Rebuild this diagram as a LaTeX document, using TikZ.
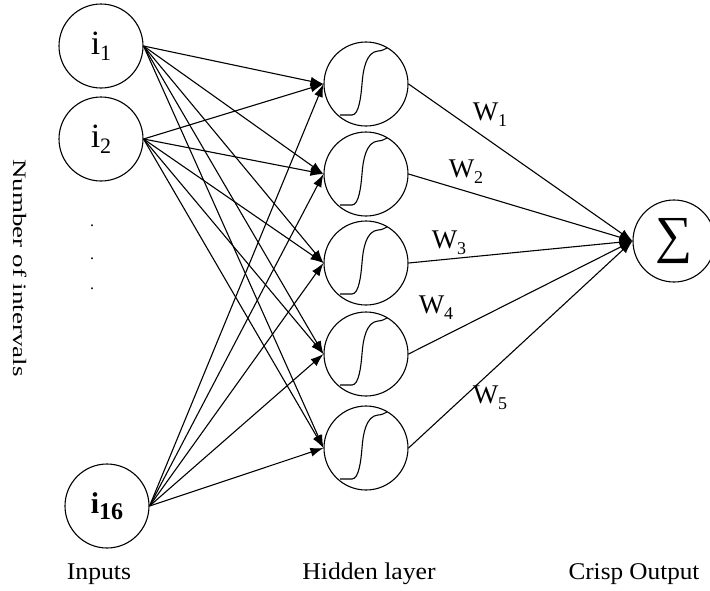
\documentclass[tikz,border=0pt]{standalone}
\usepackage{fontspec}
\setmainfont{Liberation Serif}
\usetikzlibrary{arrows.meta}
\newcommand\lowsub[2][18]{\raisebox{-6pt}{\fontsize{#1}{#1}\selectfont #2}}
\begin{document}
\begin{tikzpicture}[x=1pt,y=-1pt,
  neuron/.style={draw, circle, minimum size=84pt, inner sep=0pt, line width=1.1pt},
  link/.style={line width=1.1pt, -{Latex[length=13pt,width=9pt]}},
  lbl/.style={font=\fontsize{24}{28}\selectfont, inner sep=0pt},
  wl/.style={font=\fontsize{27}{30}\selectfont, inner sep=0pt},
  sig/.style={line width=1.1pt}]
\useasboundingbox (0,0) rectangle (710,590);
\fill[white] (0,0) rectangle (710,590);
% inputs
\node[neuron] (i1) at (101,46) {\fontsize{34}{34}\selectfont i\lowsub[22]{1}};
\node[neuron] (i2) at (101,139) {\fontsize{34}{34}\selectfont i\lowsub[22]{2}};
\node[neuron] (i16) at (107,506) {\fontsize{30}{30}\selectfont\bfseries i\lowsub[24]{16}};
% dots
\node[inner sep=0pt, font=\fontsize{16}{16}\selectfont] (d1) at (92,226) {.};
\node[inner sep=0pt, font=\fontsize{16}{16}\selectfont] (d2) at (92,259) {.};
\node[inner sep=0pt, font=\fontsize{16}{16}\selectfont] (d3) at (92,289) {.};
% hidden
\foreach \i/\y in {1/84,2/174,3/263,4/354,5/448}{
  \node[neuron] (h\i) at (366,\y) {};
  \draw[sig, shift={(h\i.center)}] (-26,31) -- (-14,31) .. controls (-7,31) and (-5,12) .. (-4,0) .. controls (-3,-14) and (0,-32) .. (12,-33) .. controls (16,-33) and (19,-35) .. (21,-36);
}
% output
\node[neuron, minimum size=82pt] (out) at (674,241) {\fontsize{52}{52}\selectfont ∑};
% connections
\foreach \s in {i1,i2,i16}{
  \foreach \t in {1,...,5}{
    \draw[link] (\s.east) -- (h\t.west);
  }
}
\foreach \t in {1,...,5}{
  \draw[link] (h\t.east) -- (out.west);
}
% weights
\node[wl] (w1) at (490,115) {W\lowsub{1}};
\node[wl] (w2) at (466,172) {W\lowsub{2}};
\node[wl] (w3) at (449,243) {W\lowsub{3}};
\node[wl] (w4) at (436,308) {W\lowsub{4}};
\node[wl] (w5) at (490,398) {W\lowsub{5}};
% labels
\node[lbl] (li) at (99,574) {\scalebox{1.07}[1]{Inputs}};
\node[lbl] (lh) at (369,574) {\scalebox{1.07}[1]{Hidden layer}};
\node[lbl] (lo) at (634,574) {\scalebox{1.05}[1]{Crisp Output}};
\node[lbl, rotate=-90, font=\fontsize{19}{22}\selectfont] (ln) at (20,268) {\scalebox{1.42}[1]{Number of intervals}};
\end{tikzpicture}
\end{document}
